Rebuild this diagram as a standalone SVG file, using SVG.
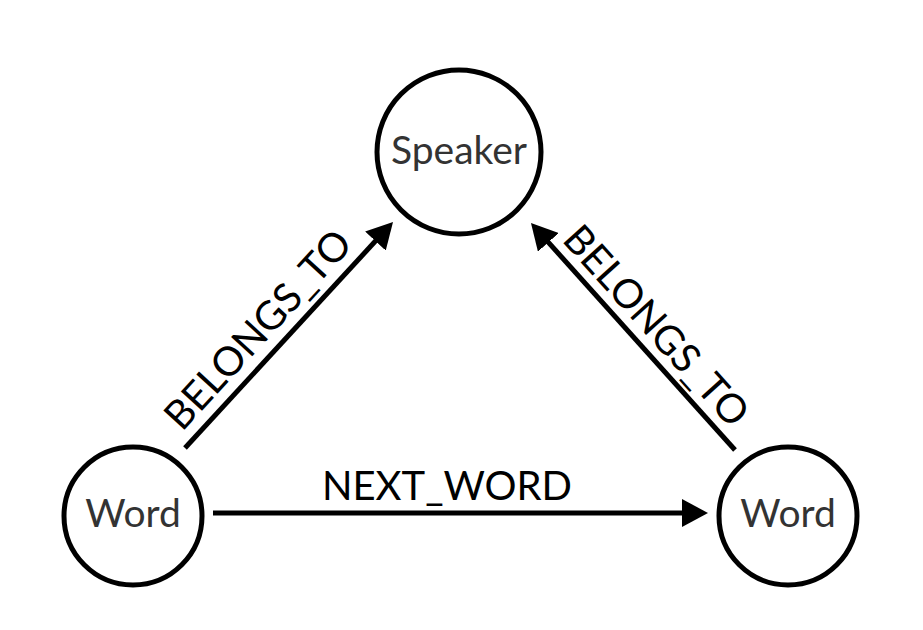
<svg xmlns="http://www.w3.org/2000/svg" width="923" height="630" viewBox="0 0 923 630">
<style>
.node circle{fill:#fff;stroke:#000;stroke-width:5}
.node text{font-family:Lato,"Liberation Sans",sans-serif;font-size:39px;fill:#333;text-anchor:middle}
.edge line{stroke:#000;stroke-width:5}
.lbl{font-family:Lato,"Liberation Sans",sans-serif;font-size:40px;fill:#000;text-anchor:middle}
</style>
<defs>
<marker id="arr" markerUnits="userSpaceOnUse" markerWidth="26" markerHeight="28" refX="14" refY="14" orient="auto" viewBox="0 0 26 28">
<path d="M0,0 L26,14 L0,28 z" fill="#000"/>
</marker>
</defs>
<rect width="923" height="630" fill="#fff"/>
<g id="edges" class="edge">
<line x1="213" y1="513" x2="696" y2="513" marker-end="url(#arr)"/>
<line x1="185" y1="448" x2="384.9" y2="230.8" marker-end="url(#arr)"/>
<line x1="735" y1="450" x2="539" y2="231.9" marker-end="url(#arr)"/>
<text class="lbl" x="447" y="500">NEXT_WORD</text>
<text class="lbl" transform="translate(268,339) rotate(-47.4)">BELONGS_TO</text>
<text class="lbl" transform="translate(646,335) rotate(48)">BELONGS_TO</text>
</g>
<g id="speaker" class="node">
<circle cx="459" cy="152" r="82"/>
<text x="459" y="164">Speaker</text>
</g>
<g id="word1" class="node">
<circle cx="133" cy="516" r="69"/>
<text x="133" y="527">Word</text>
</g>
<g id="word2" class="node">
<circle cx="788" cy="516" r="69"/>
<text x="788" y="527">Word</text>
</g>
</svg>
